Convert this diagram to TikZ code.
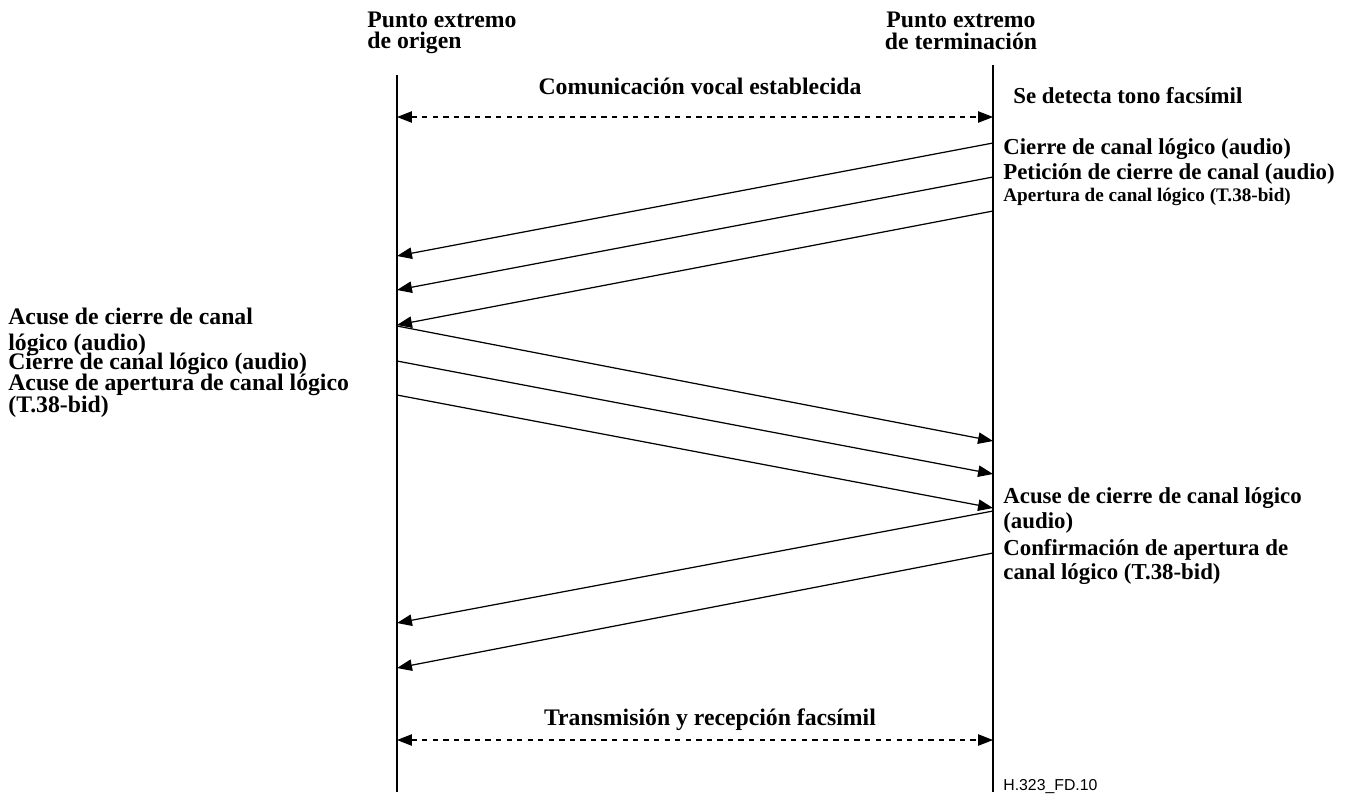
\documentclass[tikz,border=0pt]{standalone}
\usepackage{fontspec}
\setmainfont{Liberation Serif}
\setsansfont{Liberation Sans}
\usetikzlibrary{arrows.meta}

\begin{document}
\begin{tikzpicture}[x=0.02cm, y=-0.02cm,
        every node/.style={font=\bfseries\fontsize{13.5}{15}\selectfont, inner sep=0pt},
        lbl/.style={anchor=base west},
        rlbl/.style={anchor=base west, font=\bfseries\fontsize{13}{15}\selectfont},
        msg/.style={-{Triangle[length=8.5pt, width=6.5pt]}, line width=0.7pt},
        flow/.style={{Triangle[length=8.5pt, width=6.5pt]}-{Triangle[length=8.5pt, width=6.5pt]}, dashed, line width=0.6pt}]
        \useasboundingbox (0,0) rectangle (1361,796);

        % lifelines
        \coordinate (o0) at (397, 75);
        \coordinate (oz) at (397, 792);
        \coordinate (t0) at (993, 65);
        \coordinate (tz) at (993, 792);
        \draw[line width=0.8pt] (o0) -- (oz);
        \draw[line width=0.8pt] (t0) -- (tz);

        \node (h1) at (367, 27) [lbl] {Punto extremo};
        \node (h2) at (367, 48) [lbl] {de origen};
        \node (h3) at (961, 27) [anchor=base] {Punto extremo};
        \node (h4) at (961, 49) [anchor=base] {de terminación};

        % voice call, both ways
        \coordinate (f1) at (397, 117);
        \coordinate (g1) at (993, 117);
        \draw[flow] (f1) -- (g1);
        \node (c1) at (700, 94) [anchor=base] {Comunicación vocal establecida};
        \node (c2) at (1013, 103) [rlbl] {Se detecta tono facsímil};

        % terminating -> originating
        \coordinate (t1) at (993, 143);
        \coordinate (o1) at (397, 256);
        \coordinate (t2) at (993, 177);
        \coordinate (o2) at (397, 290);
        \coordinate (t3) at (993, 211);
        \coordinate (o3) at (397, 325);
        \draw[msg] (t1) -- (o1);
        \draw[msg] (t2) -- (o2);
        \draw[msg] (t3) -- (o3);
        \node (m1) at (1003, 154) [rlbl] {Cierre de canal lógico (audio)};
        \node (m2) at (1003, 179) [rlbl] {Petición de cierre de canal (audio)};
        \node (m3) at (1003, 201) [rlbl, font=\bfseries\fontsize{10.9}{12}\selectfont] {Apertura de canal lógico (T.38-bid)};

        % originating -> terminating
        \coordinate (o4) at (397, 326);
        \coordinate (t4) at (993, 441);
        \coordinate (o5) at (397, 361);
        \coordinate (t5) at (993, 474);
        \coordinate (o6) at (397, 395);
        \coordinate (t6) at (993, 508);
        \draw[msg] (o4) -- (t4);
        \draw[msg] (o5) -- (t5);
        \draw[msg] (o6) -- (t6);
        \node (m4) at (8, 324) [lbl] {Acuse de cierre de canal};
        \node (m4b) at (8, 350) [lbl] {lógico (audio)};
        \node (m5) at (8, 369) [lbl] {Cierre de canal lógico (audio)};
        \node (m6) at (8, 390) [lbl] {Acuse de apertura de canal lógico};
        \node (m6b) at (8, 412) [lbl] {(T.38-bid)};

        % terminating -> originating, acks
        \coordinate (t7) at (993, 511);
        \coordinate (o7) at (397, 623);
        \coordinate (t8) at (993, 553);
        \coordinate (o8) at (397, 668);
        \draw[msg] (t7) -- (o7);
        \draw[msg] (t8) -- (o8);
        \node (m7) at (1003, 503) [rlbl] {Acuse de cierre de canal lógico};
        \node (m7b) at (1003, 528) [rlbl] {(audio)};
        \node (m8) at (1003, 555) [rlbl] {Confirmación de apertura de};
        \node (m8b) at (1003, 579) [rlbl] {canal lógico (T.38-bid)};

        % fax transfer, both ways
        \coordinate (f2) at (397, 740);
        \coordinate (g2) at (993, 740);
        \draw[flow] (f2) -- (g2);
        \node (c3) at (710, 725) [anchor=base] {Transmisión y recepción facsímil};

        \node (id) at (1003, 790) [lbl, font=\sffamily\fontsize{9}{10}\selectfont] {H.323\_FD.10};
    \end{tikzpicture}
\end{document}
